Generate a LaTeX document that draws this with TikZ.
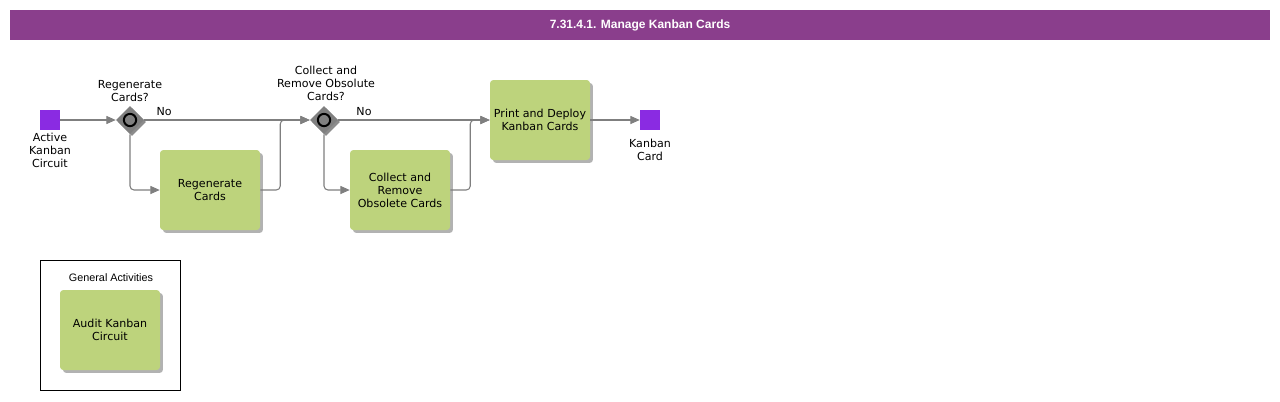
\documentclass[tikz,border=0pt]{standalone}
\usepackage{fontspec}
\setmainfont{DejaVu Sans}
\newfontfamily\arialf{Liberation Sans}
\usetikzlibrary{arrows.meta,shapes.geometric,shadows}
\definecolor{titlebg}{HTML}{8A3E8C}
\definecolor{evt}{HTML}{8A2BE2}
\definecolor{taskg}{HTML}{BDD37C}
\definecolor{flowc}{HTML}{7F7F7F}
\definecolor{gwc}{HTML}{808080}
\tikzset{
  task/.style={draw=none, fill=taskg, rounded corners=2.5pt, minimum width=75pt, minimum height=60pt,
    align=center, font=\fontsize{8.3}{9.75}\selectfont, inner sep=1pt,
    drop shadow={shadow xshift=2.2pt, shadow yshift=-2.2pt, fill=black, opacity=0.3}},
  evtbox/.style={draw=none, fill=evt, minimum width=15pt, minimum height=15pt, inner sep=0pt},
  gw/.style={diamond, draw=none, fill=gwc, minimum width=21pt, minimum height=21pt, inner sep=0pt,
    drop shadow={shadow xshift=1.5pt, shadow yshift=-1.5pt, fill=black, opacity=0.45}},
  lbl/.style={align=center, font=\fontsize{8.3}{9.75}\selectfont, inner sep=0pt},
  flow/.style={draw=flowc, line width=0.8pt, rounded corners=3pt, -{Triangle[length=7pt,width=6pt]}},
}
\begin{document}
\begin{tikzpicture}[x=0.75pt,y=-0.75pt]
\useasboundingbox (0,0) rectangle (1280,401);
\fill[white] (0,0) rectangle (1280,401);
% title
\fill[titlebg] (10,10) rectangle (1270,40);
\node[text=white, font=\arialf\bfseries\fontsize{9}{11}\selectfont] (title) at (640,25) {7.31.4.1. Manage Kanban Cards};
% events
\node[evtbox] (start) at (50,120) {};
\node[lbl, anchor=north] (startl) at (50,133) {Active\\Kanban\\Circuit};
\node[evtbox] (end) at (650,120) {};
\node[lbl, anchor=north] (endl) at (650,139) {Kanban\\Card};
% gateways
\node[gw] (g1) at (130,120) {};
\draw[black, line width=1.5pt, fill=gwc] (g1.center) circle (4.6pt);
\node[lbl, anchor=south] (g1l) at (130,102) {Regenerate\\Cards?};
\node[gw] (g2) at (324,120) {};
\draw[black, line width=1.5pt, fill=gwc] (g2.center) circle (4.6pt);
\node[lbl, anchor=south] (g2l) at (326,101) {Collect and\\Remove Obsolute\\Cards?};
% tasks
\node[task] (t1) at (210,190) {Regenerate\\Cards};
\node[task] (t2) at (400,190) {Collect and\\Remove\\Obsolete Cards};
\node[task] (t3) at (540,120) {Print and Deploy\\Kanban Cards};
% flows
\draw[flow] (start) -- (g1);
\draw[flow] (g1.east) -- node[lbl, pos=0.12, above=3pt] (no1) {No} (g2.west);
\draw[flow] (g1.south) |- (t1.west);
\draw[flow] (t1.east) -- ++(20,0) |- (g2.west);
\draw[flow] (g2.east) -- node[lbl, pos=0.17, above=3pt] (no2) {No} (t3.west);
\draw[flow] (g2.south) |- (t2.west);
\draw[flow] (t2.east) -- ++(20,0) |- (t3.west);
\draw[flow] (t3.east) -- (end.west);
% general activities
\node[draw=black, line width=0.6pt, minimum width=105pt, minimum height=97.5pt, inner sep=0pt] (ga) at (110,325) {};
\node[font=\arialf\fontsize{8.1}{9}\selectfont, inner sep=0pt] (gal) at (111,278) {General Activities};
\node[task] (t4) at (110,330) {Audit Kanban\\Circuit};
\end{tikzpicture}
\end{document}
